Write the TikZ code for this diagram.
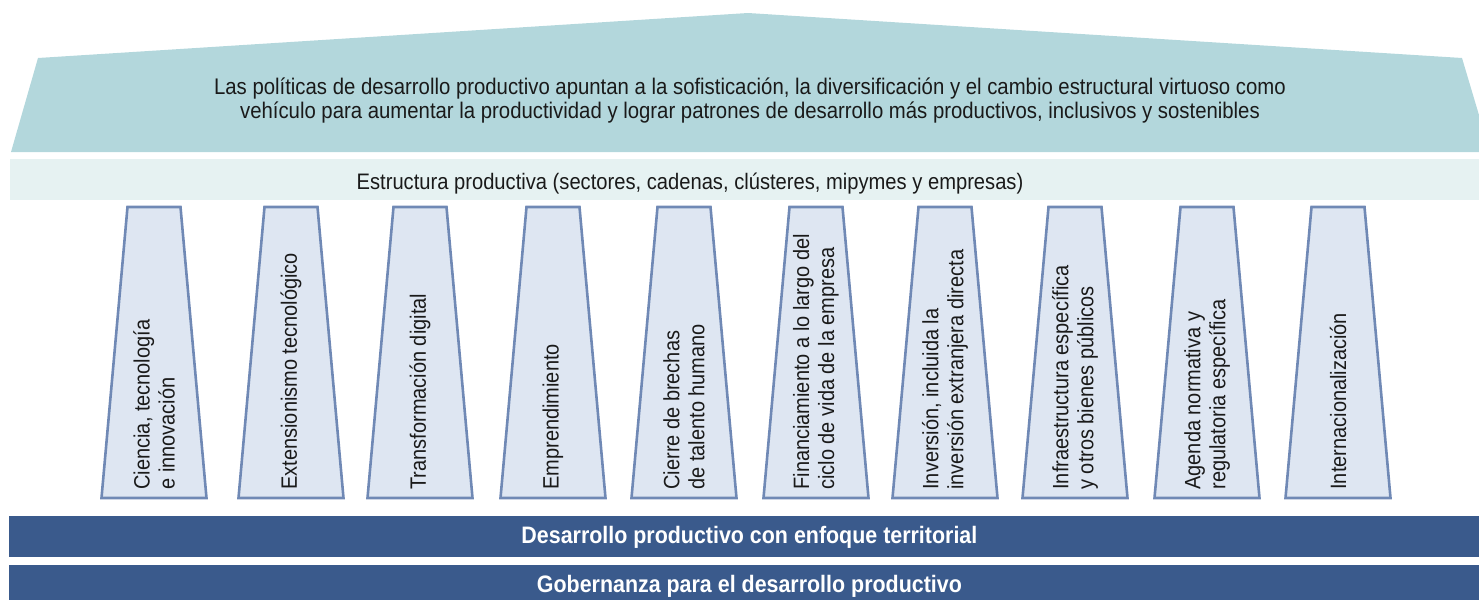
\documentclass[tikz,border=0pt]{standalone}
\usepackage{fontspec}
\setmainfont{Liberation Sans}[FakeStretch=0.9]
\usepackage{tikz}
\usetikzlibrary{shapes.geometric, positioning}

\definecolor{techo}{HTML}{B3D7DC}
\definecolor{franja}{HTML}{E6F2F2}
\definecolor{pilarfondo}{HTML}{DEE6F2}
\definecolor{pilarborde}{HTML}{7089B5}
\definecolor{base}{HTML}{3A5A8C}
\definecolor{texto}{HTML}{1A1A1A}

\begin{document}
\begin{tikzpicture}[x=0.5pt, y=-0.5pt,
  pilar/.style={fill=pilarfondo, draw=pilarborde, line width=1.3pt, line join=miter},
  etiqueta/.style={rotate=90, anchor=west, align=left, inner sep=0pt, text=texto, font=\fontsize{11.1}{12.5}\selectfont},
  barra/.style={fill=base, text=white, font=\bfseries\fontsize{11.9}{13}\selectfont, minimum width=740pt, minimum height=20.5pt, inner sep=0pt}]
\useasboundingbox (0,0) rectangle (1479,600);
\clip (0,0) rectangle (1479,600);

% techo
\fill[techo] (11,152) -- (38,58) -- (748,13) -- (1462,58) -- (1490,152) -- cycle;
\node (techotxt)[align=center, text=texto, font=\fontsize{11.3}{12}\selectfont] at (750,101) {Las políticas de desarrollo productivo apuntan a la sofisticación, la diversificación y el cambio estructural virtuoso como\\vehículo para aumentar la productividad y lograr patrones de desarrollo más productivos, inclusivos y sostenibles};

% estructura productiva
\fill[franja] (10,159) rectangle (1490,200);
\node (estructura)[text=texto, font=\fontsize{11.2}{12}\selectfont] at (690,184) {Estructura productiva (sectores, cadenas, clústeres, mipymes y empresas)};

% pilares
\foreach \cx/\txt [count=\i] in {
  154/{Ciencia, tecnología\\e innovación},
  291/{Extensionismo tecnológico},
  420/{Transformación digital},
  553/{Emprendimiento},
  684/{Cierre de brechas\\de talento humano},
  816/{Financiamiento a lo largo del\\ciclo de vida de la empresa},
  945/{Inversión, incluida la\\inversión extranjera directa},
  1075/{Infraestructura específica\\y otros bienes públicos},
  1207/{Agenda normativa y\\regulatoria específica},
  1338/{Internacionalización}}{
  \draw[pilar] ({\cx-26.5},207) -- ({\cx+26.5},207) -- ({\cx+52.5},498) -- ({\cx-52.5},498) -- cycle;
  \node (etiq\i)[etiqueta] at (\cx,490) {\txt};
}

% bases
\node (territorial)[barra, anchor=north west] at (9,516) {Desarrollo productivo con enfoque territorial};
\node (gobernanza)[barra, anchor=north west] at (9,565) {Gobernanza para el desarrollo productivo};

\end{tikzpicture}
\end{document}
